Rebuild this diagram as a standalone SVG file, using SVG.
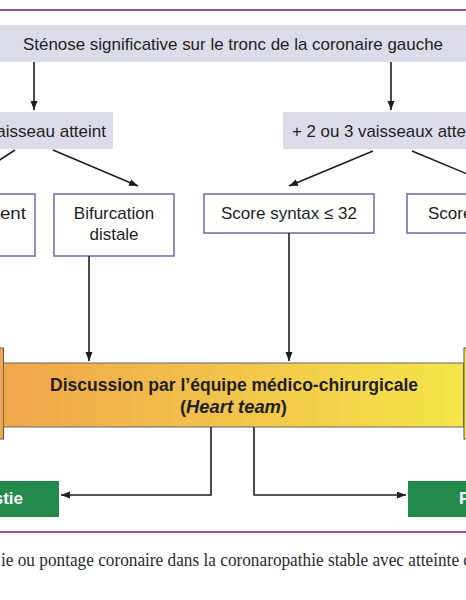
<svg xmlns="http://www.w3.org/2000/svg" width="466" height="600" viewBox="0 0 466 600">
<style>
.t{font-family:"Liberation Sans",Arial,sans-serif;font-size:17px;fill:#1e1e1e}
.b{font-weight:bold;font-size:18px}
.w{fill:#fff;font-weight:bold}
.grey{fill:#dcdce8}
.box{fill:#fff;stroke:#7b6eb0;stroke-width:1.6}
.green{fill:#238a4c}
.c{stroke:#1e1e1e;stroke-width:1.6;fill:none}
.rule{stroke:#9c4c9c;stroke-width:2}
</style>
<defs>
<marker id="ah" markerUnits="userSpaceOnUse" markerWidth="10" markerHeight="8" refX="9" refY="3.5" orient="auto">
<path d="M0,0 L9,3.5 L0,7 z" fill="#1e1e1e"/>
</marker>
<linearGradient id="grad" x1="0" y1="0" x2="1" y2="0">
<stop offset="0" stop-color="#f0a64a"/>
<stop offset="0.5" stop-color="#f2c44a"/>
<stop offset="1" stop-color="#f5e64a"/>
</linearGradient>
</defs>
<rect width="466" height="600" fill="#fff"/>
<line class="rule" x1="0" y1="10" x2="466" y2="10"/>
<line class="rule" x1="0" y1="532" x2="466" y2="532"/>

<g id="top">
<rect class="grey" x="0" y="25" width="466" height="37"/>
<text class="t" x="233" y="50" text-anchor="middle" textLength="420" lengthAdjust="spacingAndGlyphs">Sténose significative sur le tronc de la coronaire gauche</text>
</g>
<g id="one-vessel">
<rect class="grey" x="-60" y="112" width="173" height="37"/>
<text class="t" x="106" y="137" text-anchor="end">vaisseau atteint</text>
</g>
<g id="multi-vessel">
<rect class="grey" x="283" y="112" width="200" height="37"/>
<text class="t" x="292" y="137" textLength="200" lengthAdjust="spacingAndGlyphs">+ 2 ou 3 vaisseaux atteints</text>
</g>
<g id="segment">
<rect class="box" x="-90" y="194" width="125" height="62"/>
<text class="t" x="-46" y="219" textLength="72" lengthAdjust="spacingAndGlyphs">segment</text>
</g>
<g id="bifurcation">
<rect class="box" x="54" y="194" width="120" height="62"/>
<text class="t" x="114" y="219" text-anchor="middle">Bifurcation</text>
<text class="t" x="114" y="240" text-anchor="middle">distale</text>
</g>
<g id="syntax-low">
<rect class="box" x="204" y="194" width="170" height="39"/>
<text class="t" x="289" y="219" text-anchor="middle">Score syntax ≤ 32</text>
</g>
<g id="syntax-high">
<rect class="box" x="407" y="194" width="170" height="39"/>
<text class="t" x="428" y="219">Score syntax &gt; 32</text>
</g>
<g id="heart-team">
<rect x="-20" y="348" width="23.5" height="91" fill="#f0a64a" stroke="#555" stroke-width="1"/>
<rect x="464" y="348" width="20" height="91" fill="#f5e64a" stroke="#555" stroke-width="1"/>
<rect x="3.5" y="363" width="460" height="64" fill="url(#grad)" stroke="#666" stroke-width="1"/>
<text class="t b" x="234" y="391" text-anchor="middle" textLength="368" lengthAdjust="spacingAndGlyphs">Discussion par l’équipe médico-chirurgicale</text>
<text class="t b" x="233.5" y="413" text-anchor="middle" textLength="107" lengthAdjust="spacingAndGlyphs">(<tspan font-style="italic">Heart team</tspan>)</text>
</g>
<g id="angioplastie">
<rect class="green" x="-80" y="481" width="139" height="36"/>
<text class="t w" x="23" y="504" text-anchor="end">Angioplastie</text>
</g>
<g id="pontage">
<rect class="green" x="408" y="481" width="120" height="36"/>
<text class="t w" x="459" y="504">Pontage</text>
</g>
<g id="connectors">
<line class="c" x1="34" y1="62" x2="34" y2="110" marker-end="url(#ah)"/>
<line class="c" x1="391" y1="62" x2="391" y2="110" marker-end="url(#ah)"/>
<line class="c" x1="15" y1="150" x2="-40" y2="186" marker-end="url(#ah)"/>
<line class="c" x1="53" y1="150" x2="138" y2="186" marker-end="url(#ah)"/>
<line class="c" x1="373" y1="151" x2="289" y2="186" marker-end="url(#ah)"/>
<line class="c" x1="412" y1="151" x2="496" y2="186" marker-end="url(#ah)"/>
<line class="c" x1="89" y1="256" x2="89" y2="361" marker-end="url(#ah)"/>
<line class="c" x1="289" y1="233" x2="289" y2="361" marker-end="url(#ah)"/>
<polyline class="c" points="211,427 211,495 61,495" marker-end="url(#ah)"/>
<polyline class="c" points="254,427 254,495 406,495" marker-end="url(#ah)"/>
</g>
<text x="1" y="566" font-family="'Liberation Serif','Times New Roman',serif" font-size="18.5" fill="#2a2a2a" textLength="471" lengthAdjust="spacingAndGlyphs">ie ou pontage coronaire dans la coronaropathie stable avec atteinte d</text>
</svg>
